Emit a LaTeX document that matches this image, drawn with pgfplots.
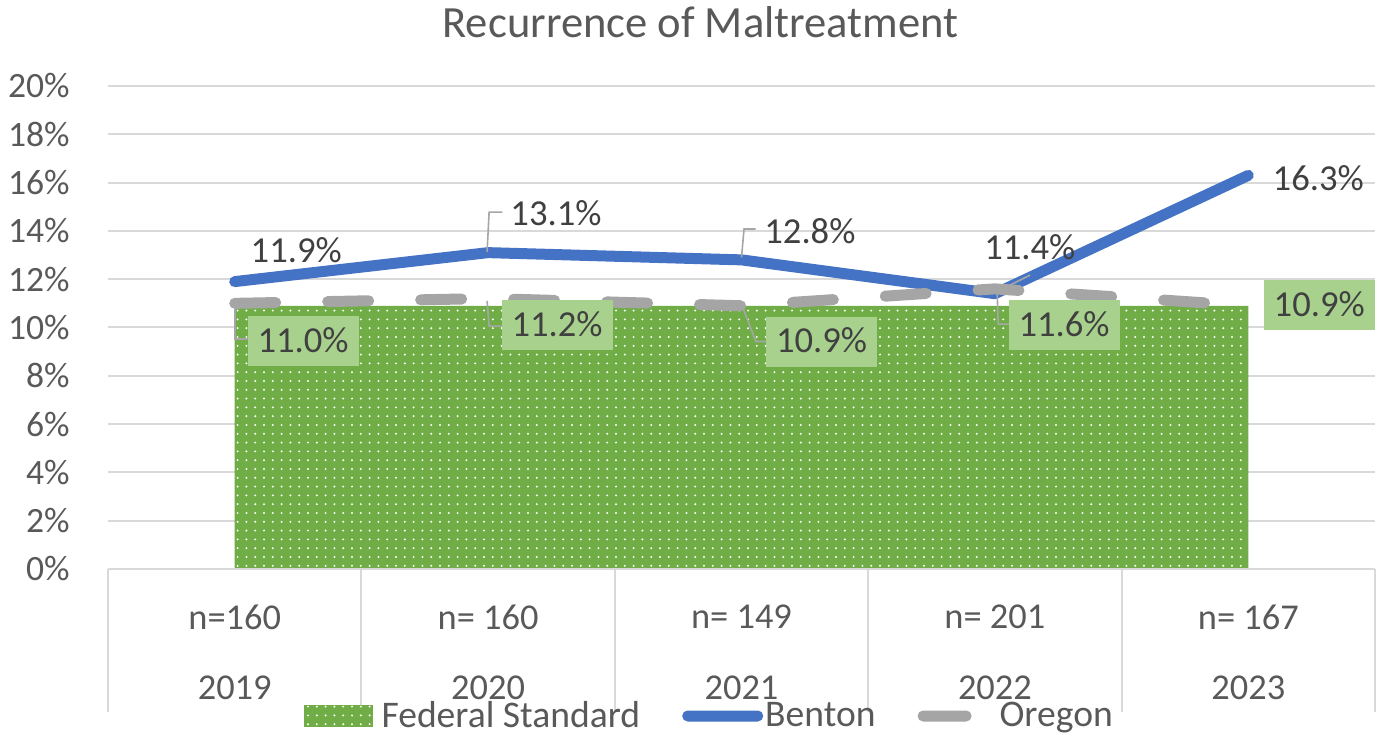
\documentclass[border=0pt]{standalone}
\usepackage{pgfplots}
\pgfplotsset{compat=1.18}
\usepackage{fontspec}
\setmainfont{Carlito}
\usetikzlibrary{patterns.meta}
\definecolor{fedgreen}{HTML}{70AD47}
\definecolor{lblgreen}{HTML}{A9D18E}
\definecolor{benton}{HTML}{4472C4}
\definecolor{oregon}{HTML}{A5A5A5}
\definecolor{gridc}{HTML}{D9D9D9}
\definecolor{txt}{HTML}{595959}
\definecolor{lbl}{HTML}{404040}
\definecolor{leader}{HTML}{A6A6A6}
\pgfplotstableread{
x fed benton oregon
0 10.9 11.9 11.0
1 10.9 13.1 11.2
2 10.9 12.8 10.9
3 10.9 11.4 11.6
4 10.9 16.3 10.9
}\datatable
\begin{document}
\begin{tikzpicture}
\useasboundingbox (-54pt,-82pt) rectangle (636pt,284.5pt);
\begin{axis}[
  at={(0,0)}, anchor=south west,
  scale only axis, width=633.5pt, height=241.5pt,
  xmin=-0.5, xmax=4.5, ymin=0, ymax=20,
  clip=false,
  axis line style={draw=none},
  tick style={draw=none},
  major tick length=0pt,
  xtick={0,1,2,3,4},
  xticklabels={{n=160},{n= 160},{n= 149},{n= 201},{n= 167}},
  xticklabel style={anchor=center, inner sep=0pt, yshift=-24pt, font=\fontsize{18.2}{20}\selectfont, text=txt},
  ytick={0,2,4,6,8,10,12,14,16,18,20},
  yticklabels={0\%,2\%,4\%,6\%,8\%,10\%,12\%,14\%,16\%,18\%,20\%},
  yticklabel style={anchor=east, inner sep=0pt, xshift=-19pt, font=\fontsize{17.8}{20}\selectfont, text=txt},
  ymajorgrids,
  grid style={gridc, line width=1pt},
  legend columns=3,
  legend style={draw=none, fill=none, at={(0.4745,0)}, anchor=center, yshift=-73.5pt,
    font=\fontsize{18.8}{20}\selectfont, text=txt,
    nodes={inner xsep=1pt},
    /tikz/every even column/.append style={column sep=20pt}},
]
% Federal standard area
\addplot[draw=none, fill=fedgreen, forget plot] table[x=x, y=fed] {\datatable} \closedcycle;
\addplot[draw=none, pattern={Dots[distance=4.4pt, radius=0.55pt]}, pattern color=white,
  legend image code/.code={
    \path[draw=none, fill=none] (0pt,0pt) -- (38pt,0pt);
    \fill[fedgreen, draw=none] (0pt,-5.5pt) rectangle (34.5pt,5.5pt);
    \fill[pattern={Dots[distance=4.4pt, radius=0.55pt]}, pattern color=white, draw=none] (0pt,-5.5pt) rectangle (34.5pt,5.5pt);
  }] table[x=x, y=fed] {\datatable} \closedcycle;
\addlegendentry{Federal Standard}
% Benton
\addplot[benton, line width=5.5pt, line cap=round, line join=round,
  legend image code/.code={
    \fill[benton, draw=none, rounded corners=2.7pt] (0pt,-2.75pt) rectangle (40.5pt,2.75pt);
  }] table[x=x, y=benton] {\datatable};
\addlegendentry{Benton}
% Oregon
\addplot[oregon, line width=5.5pt, line cap=round, line join=round, dash pattern=on 20.5pt off 26pt,
  legend image code/.code={
    \path[draw=none, fill=none] (0pt,0pt) -- (40pt,0pt);
    \fill[oregon, draw=none, rounded corners=2.7pt] (0pt,-2.75pt) rectangle (27pt,2.75pt);
  }] table[x=x, y=oregon] {\datatable};
\addlegendentry{Oregon}

% category separators and x axis line
\draw[gridc, line width=1pt] (axis cs:-0.5,0) -- (axis cs:4.5,0);
\draw[gridc, line width=1pt] (axis cs:-0.5,0) -- ++(0pt,-71.5pt);
\draw[gridc, line width=1pt] (axis cs:0.5,0) -- ++(0pt,-71.5pt);
\draw[gridc, line width=1pt] (axis cs:1.5,0) -- ++(0pt,-71.5pt);
\draw[gridc, line width=1pt] (axis cs:2.5,0) -- ++(0pt,-71.5pt);
\draw[gridc, line width=1pt] (axis cs:3.5,0) -- ++(0pt,-71.5pt);
\draw[gridc, line width=1pt] (axis cs:4.5,0) -- ++(0pt,-71.5pt);
% year labels
\begin{scope}[every node/.style={font=\fontsize{18.2}{20}\selectfont, text=txt, inner sep=0pt, anchor=center, yshift=-59.5pt}]
\node at (axis cs:0,0) {2019};
\node at (axis cs:1,0) {2020};
\node at (axis cs:2,0) {2021};
\node at (axis cs:3,0) {2022};
\node at (axis cs:4,0) {2023};
\end{scope}
% title
\node[font=\fontsize{22.3}{24}\selectfont, text=txt, anchor=center] at (rel axis cs:0.4676,1) [yshift=32pt] {Recurrence of Maltreatment};

% leader lines
\draw[leader, line width=0.8pt] (axis cs:0.996,13.13) -- (axis cs:1.004,14.78) -- (axis cs:1.056,14.78);
\draw[leader, line width=0.8pt] (axis cs:2.0,12.9) -- (axis cs:2.01,14.08) -- (axis cs:2.056,14.08);
\draw[leader, line width=0.8pt] (axis cs:3.02,11.55) -- (axis cs:3.139,12.17);
\draw[leader, line width=0.8pt] (axis cs:0.001,11.0) -- (axis cs:0.001,9.52) -- (axis cs:0.053,9.52);
\draw[leader, line width=0.8pt] (axis cs:0.996,11.1) -- (axis cs:1.004,10.06) -- (axis cs:1.056,10.06);
\draw[leader, line width=0.8pt] (axis cs:2.006,10.8) -- (axis cs:2.057,9.42) -- (axis cs:2.1,9.42);
\draw[leader, line width=0.8pt] (axis cs:3.009,11.43) -- (axis cs:3.013,10.14) -- (axis cs:3.06,10.14);

% Benton labels
\begin{scope}[every node/.style={font=\fontsize{18.3}{20}\selectfont, text=lbl, inner sep=0pt, anchor=center}]
\node at (axis cs:0.243,13.21) {11.9\%};
\node at (axis cs:1.268,14.74) {13.1\%};
\node at (axis cs:2.27,14.0) {12.8\%};
\node at (axis cs:3.138,13.33) {11.4\%};
\node at (axis cs:4.276,16.19) {16.3\%};
\end{scope}
% Oregon labels
\begin{scope}[every node/.style={font=\fontsize{18.3}{20}\selectfont, text=lbl, fill=lblgreen, inner xsep=5pt, inner ysep=6pt, text height=12pt, text depth=1pt, anchor=center}]
\node at (axis cs:0.270,9.44) {11.0\%};
\node at (axis cs:1.272,10.10) {11.2\%};
\node at (axis cs:2.316,9.42) {10.9\%};
\node at (axis cs:3.273,10.10) {11.6\%};
\node at (axis cs:4.28,10.93) {10.9\%};
\end{scope}
\end{axis}
\end{tikzpicture}
\end{document}
